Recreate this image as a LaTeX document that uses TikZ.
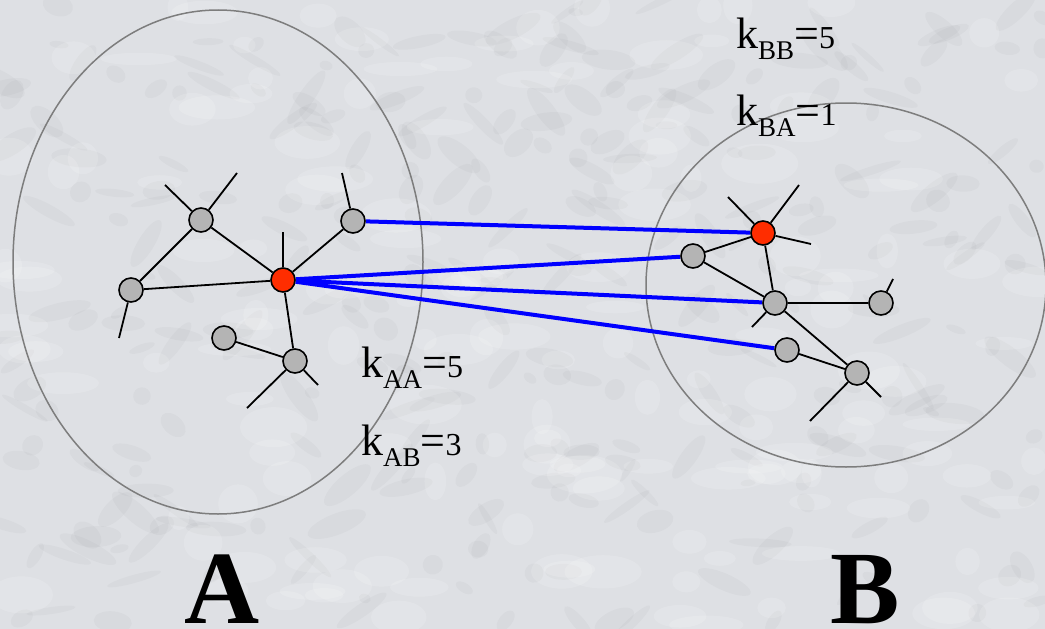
\documentclass[tikz,border=0pt]{standalone}
\usepackage{fontspec}
\setmainfont{Liberation Serif}
\pgfdeclarelayer{bg}
\pgfdeclarelayer{edges}
\pgfsetlayers{bg,edges,main}
\definecolor{marble}{RGB}{222,224,228}
\definecolor{vein}{RGB}{140,142,148}
\definecolor{nodegray}{RGB}{180,180,180}
\definecolor{nodered}{RGB}{255,45,0}
\definecolor{ringgray}{RGB}{125,125,125}
\definecolor{linkblue}{RGB}{0,0,255}
\newcommand{\klabel}[2]{{\fontsize{44}{50}\selectfont k\raisebox{-11pt}{\fontsize{27}{30}\selectfont #1}=\fontsize{32}{36}\selectfont #2}}
\begin{document}
\begin{tikzpicture}[x=1pt,y=-1pt,
  gnode/.style={circle,draw=black,line width=1.6pt,fill=nodegray,minimum size=24pt,inner sep=0pt},
  rnode/.style={gnode,fill=nodered},
  edge/.style={draw=black,line width=1.8pt},
  link/.style={draw=linkblue,line width=4pt},
  ring/.style={draw=ringgray,line width=1.5pt},
  lbl/.style={anchor=base west,inner sep=0pt,text=black},
  big/.style={anchor=base west,inner sep=0pt,font=\fontsize{104}{110}\selectfont\bfseries}]
\useasboundingbox (0,0) rectangle (1045,629);
\begin{pgfonlayer}{bg}
\begin{scope}
\clip (0,0) rectangle (1045,629);
\fill[marble] (0,0) rectangle (1045,629);
\pgfmathsetseed{7}
\foreach \i in {1,...,320}{
  \pgfmathsetmacro{\px}{rnd*1045}
  \pgfmathsetmacro{\py}{rnd*629}
  \pgfmathsetmacro{\rx}{6+rnd*26}
  \pgfmathsetmacro{\ry}{3+rnd*8}
  \pgfmathsetmacro{\rot}{-60+rnd*120}
  \fill[vein,opacity=0.07,rotate around={\rot:(\px,\py)}] (\px,\py) ellipse [x radius=\rx pt, y radius=\ry pt];
}
\foreach \i in {1,...,160}{
  \pgfmathsetmacro{\px}{rnd*1045}
  \pgfmathsetmacro{\py}{rnd*629}
  \pgfmathsetmacro{\rx}{10+rnd*30}
  \pgfmathsetmacro{\ry}{6+rnd*14}
  \fill[white,opacity=0.15] (\px,\py) ellipse [x radius=\rx pt, y radius=\ry pt];
}
\end{scope}
\draw[ring] (218,262) ellipse [x radius=205pt, y radius=252pt];
\draw[ring] (846,285) ellipse [x radius=200pt, y radius=182pt];
\end{pgfonlayer}

% left cluster
\node[rnode] (ra) at (283,280) {};
\node[gnode] (a1) at (201,220) {};
\node[gnode] (a2) at (131,290) {};
\node[gnode] (a3) at (353,221) {};
\node[gnode] (a4) at (224,338) {};
\node[gnode] (a5) at (295,361) {};
% right cluster
\node[rnode] (rb) at (763,233) {};
\node[gnode] (b1) at (693,256) {};
\node[gnode] (b2) at (775,303) {};
\node[gnode] (b3) at (881,303) {};
\node[gnode] (b4) at (787,350) {};
\node[gnode] (b5) at (857,373) {};

% stub ends
\coordinate (s1) at (165,185);
\coordinate (s2) at (237,173);
\coordinate (s3) at (119,338);
\coordinate (s4) at (283,232);
\coordinate (s5) at (342,173);
\coordinate (s6) at (247,408);
\coordinate (s7) at (318,385);
\coordinate (t1) at (728,197);
\coordinate (t2) at (799,185);
\coordinate (t3) at (811,244);
\coordinate (t4) at (752,327);
\coordinate (t5) at (893,279);
\coordinate (t6) at (810,421);
\coordinate (t7) at (881,397);

\begin{pgfonlayer}{edges}
\draw[edge] (a1) -- (ra);
\draw[edge] (a1) -- (a2);
\draw[edge] (a2) -- (ra);
\draw[edge] (ra) -- (a3);
\draw[edge] (ra) -- (a5);
\draw[edge] (a4) -- (a5);
\draw[edge] (a1) -- (s1);
\draw[edge] (a1) -- (s2);
\draw[edge] (a2) -- (s3);
\draw[edge] (ra) -- (s4);
\draw[edge] (a3) -- (s5);
\draw[edge] (a5) -- (s6);
\draw[edge] (a5) -- (s7);
\draw[edge] (rb) -- (b1);
\draw[edge] (rb) -- (b2);
\draw[edge] (b1) -- (b2);
\draw[edge] (b2) -- (b3);
\draw[edge] (b2) -- (b5);
\draw[edge] (b4) -- (b5);
\draw[edge] (rb) -- (t1);
\draw[edge] (rb) -- (t2);
\draw[edge] (rb) -- (t3);
\draw[edge] (b2) -- (t4);
\draw[edge] (b3) -- (t5);
\draw[edge] (b5) -- (t6);
\draw[edge] (b5) -- (t7);
\draw[link] (a3) -- (rb);
\draw[link] (ra) -- (b1);
\draw[link] (ra) -- (b2);
\draw[link] (ra) -- (b4);
\end{pgfonlayer}

% labels
\node[lbl] (kbb) at (736,48) {\klabel{BB}{5}};
\node[lbl] (kba) at (736,125) {\klabel{BA}{1}};
\node[lbl] (kaa) at (361,377) {\klabel{AA}{5}};
\node[lbl] (kab) at (361,455) {\klabel{AB}{3}};
\node[big] (la) at (184,623) {A};
\node[big] (lb) at (830,623) {B};
\end{tikzpicture}
\end{document}
